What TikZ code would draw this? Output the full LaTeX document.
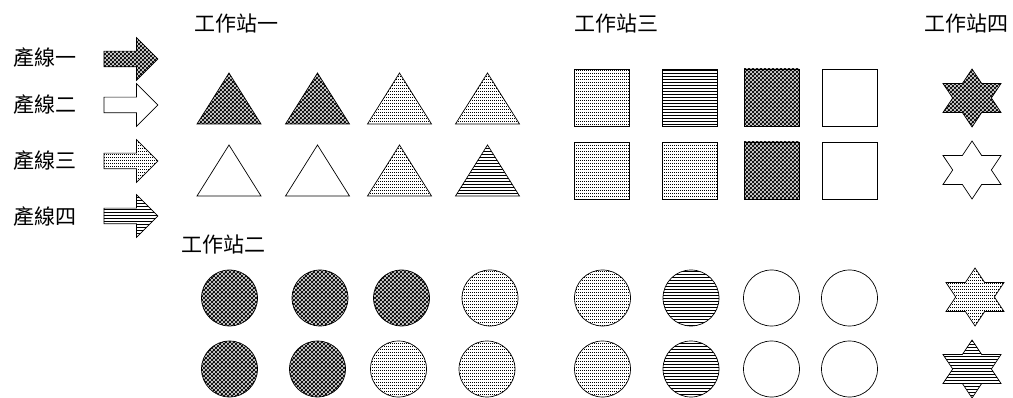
\documentclass[tikz,border=0pt]{standalone}
\usepackage{fontspec}
\newfontfamily\cjkfont{Noto Sans CJK TC}
\usetikzlibrary{patterns,shapes.arrows}

\pgfdeclarepatternformonly{heavydots}{\pgfpointorigin}{\pgfqpoint{4.4pt}{4.4pt}}{\pgfqpoint{4.4pt}{4.4pt}}{%
  \pgfpathcircle{\pgfpointorigin}{1.55pt}
  \pgfpathcircle{\pgfqpoint{4.4pt}{0pt}}{1.55pt}
  \pgfpathcircle{\pgfqpoint{0pt}{4.4pt}}{1.55pt}
  \pgfpathcircle{\pgfqpoint{4.4pt}{4.4pt}}{1.55pt}
  \pgfpathcircle{\pgfqpoint{2.2pt}{2.2pt}}{1.55pt}
  \pgfusepath{fill}}
\pgfdeclarepatternformonly{finedots}{\pgfpointorigin}{\pgfqpoint{2pt}{3pt}}{\pgfqpoint{2pt}{3pt}}{%
  \pgfpathrectangle{\pgfpointorigin}{\pgfqpoint{1.2pt}{1pt}}
  \pgfusepath{fill}}
\pgfdeclarepatternformonly{hlines}{\pgfqpoint{0pt}{0pt}}{\pgfqpoint{100pt}{3.3pt}}{\pgfqpoint{100pt}{3.3pt}}{%
  \pgfpathrectangle{\pgfqpoint{-1pt}{0pt}}{\pgfqpoint{102pt}{1.1pt}}
  \pgfusepath{fill}}

\begin{document}
\begin{tikzpicture}[x=1pt, y=-1pt,
  lbl/.style={font=\cjkfont\fontsize{21}{25}\selectfont, inner sep=0pt},
  shp/.style={draw, line width=0.7pt},
  arw/.style={shp, single arrow, inner xsep=0pt, inner ysep=7.5pt, minimum height=54pt,
    single arrow head extend=13.5pt, single arrow head indent=0pt},
  dark/.style={pattern=heavydots},
  light/.style={pattern=finedots},
  stripe/.style={pattern=hlines},
  blank/.style={fill=white}]
\useasboundingbox (0,0) rectangle (1013,398);

\node[lbl] (ws1) at (236,24) {工作站一};
\node[lbl] (ws3) at (616,24) {工作站三};
\node[lbl] (ws4) at (966,24) {工作站四};
\node[lbl] (ws2) at (223,244) {工作站二};

\node[lbl] (line1) at (45,58) {產線一};
\node[lbl] (line2) at (45,105) {產線二};
\node[lbl] (line3) at (45,161) {產線三};
\node[lbl] (line4) at (45,217) {產線四};
\node[arw, dark] (arr1) at (127,59) {};
\node[arw, blank] (arr2) at (127,105) {};
\node[arw, light] (arr3) at (127,161) {};
\node[arw, stripe] (arr4) at (127,216) {};

\foreach \cx/\ty/\f in {229/73/dark, 317.5/73/dark, 399.5/73/light, 487.5/73/light,
  229/145/blank, 317.5/145/blank, 399.5/145/light, 487.5/145/stripe}
  \draw[shp, \f] (\cx,\ty) -- ++(32,51) -- ++(-64,0) -- cycle;

\foreach \cx/\ty/\f in {602/69/light, 690/69/stripe, 771.5/69/dark, 849.5/69/blank,
  602/142/light, 690/142/light, 771.5/142/dark, 849.5/142/blank}
  \draw[shp, \f] ({\cx-27.5},\ty) rectangle ++(55,57);

\foreach \cx/\cy/\f in {229.5/298/dark, 320/298/dark, 401.5/298/dark, 490/298/light,
  602.5/298/light, 691/298/stripe, 771.5/298/blank, 849.5/298/blank,
  229.5/369/dark, 317.5/369/dark, 398.5/369/light, 487/369/light,
  602.5/369/light, 691/369/stripe, 771.5/369/blank, 849.5/369/blank}
  \draw[shp, \f] (\cx,\cy) circle[radius=28];

\foreach \cx/\cy/\f in {972/98/dark, 972/170/blank, 975/297/light, 972/369/stripe}
  \draw[shp, \f, shift={(\cx,\cy)}, xscale=33.5, yscale=29]
    (90:1) -- (60:0.577) -- (30:1) -- (0:0.577) -- (-30:1) -- (-60:0.577)
    -- (-90:1) -- (-120:0.577) -- (-150:1) -- (180:0.577) -- (150:1) -- (120:0.577) -- cycle;
\end{tikzpicture}
\end{document}
